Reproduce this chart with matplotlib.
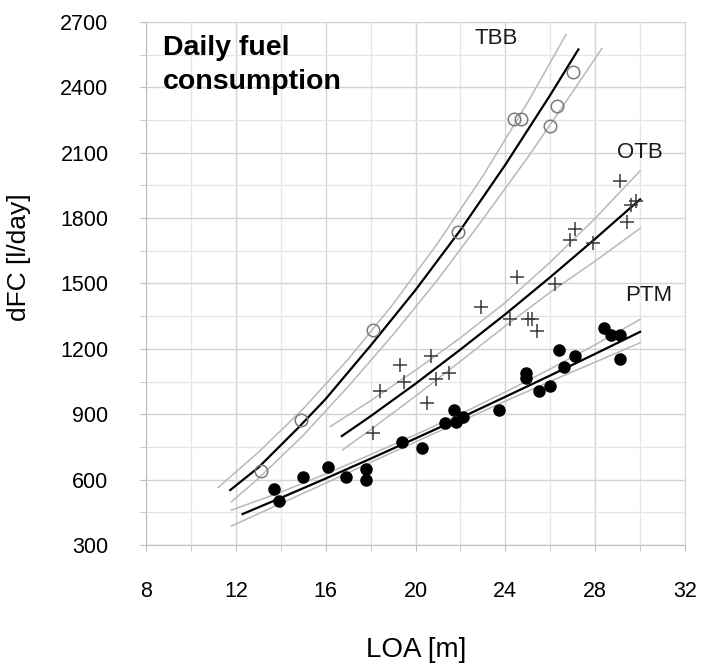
import matplotlib.pyplot as plt
from matplotlib.ticker import MultipleLocator

plt.rcParams['font.family'] = ['Liberation Sans', 'DejaVu Sans']

# observed vessels, LOA [m] vs daily fuel consumption [l/day]
tbb_loa = [13.1, 14.9, 18.1, 21.9, 24.4, 24.7, 26.0, 26.3, 27.0]
tbb_dfc = [639, 873, 1286, 1734, 2255, 2255, 2222, 2314, 2471]

otb_loa = [18.1, 18.4, 19.3, 19.5, 20.5, 20.7, 20.9, 21.5, 22.9, 24.2, 24.5,
           25.0, 25.2, 25.4, 26.2, 26.9, 27.1, 27.9, 29.1, 29.4, 29.6, 29.8]
otb_dfc = [812, 1006, 1126, 1046, 953, 1167, 1060, 1090, 1393, 1335, 1528,
           1335, 1335, 1283, 1496, 1699, 1748, 1684, 1971, 1783, 1860, 1880]

ptm_loa = [13.7, 13.9, 15.0, 16.1, 16.9, 17.8, 17.8, 19.4, 20.3, 21.3, 21.7,
           21.8, 22.1, 23.7, 24.9, 24.9, 25.5, 26.0, 26.4, 26.6, 27.1, 28.4,
           28.7, 29.1, 29.1]
ptm_dfc = [557, 503, 613, 659, 611, 647, 598, 774, 745, 861, 919,
           866, 889, 919, 1088, 1065, 1006, 1029, 1194, 1115, 1167, 1294,
           1263, 1263, 1153]

# fitted curves and their bands
tbb_fit_x = [11.75, 13, 14.8, 16, 18, 20, 22, 24, 26, 27.25]
tbb_fit_y = [552, 655, 840, 970, 1215, 1470, 1745, 2045, 2365, 2574]
tbb_up_x = [11.2, 13, 15, 17, 19, 21, 23, 25, 26.7]
tbb_up_y = [563, 725, 925, 1152, 1405, 1687, 1993, 2332, 2642]
tbb_lo_x = [11.8, 13, 15, 17, 19, 21, 23, 25, 27, 28.3]
tbb_lo_y = [498, 605, 803, 1027, 1265, 1519, 1795, 2079, 2380, 2579]

otb_fit_x = [16.72, 18, 20, 22, 24, 26, 28, 30]
otb_fit_y = [800, 891, 1040, 1197, 1359, 1529, 1705, 1886]
otb_up_x = [16.2, 18, 20, 22, 24, 26, 28, 30]
otb_up_y = [843, 962, 1102, 1251, 1413, 1598, 1799, 2017]
otb_lo_x = [16.75, 18, 20, 22, 24, 26, 28, 30]
otb_lo_y = [736, 829, 983, 1143, 1305, 1460, 1603, 1753]

ptm_fit_x = [12.3, 14, 16, 18, 20, 22, 24, 26, 28, 30]
ptm_fit_y = [442, 516, 605, 696, 789, 883, 980, 1078, 1177, 1278]
ptm_up_x = [11.8, 14, 16, 18, 20, 22, 24, 26, 28, 30]
ptm_up_y = [460, 542, 626, 715, 806, 901, 1002, 1108, 1219, 1335]
ptm_lo_x = [11.8, 14, 16, 18, 20, 22, 24, 26, 28, 30]
ptm_lo_y = [387, 490, 584, 679, 773, 867, 960, 1051, 1139, 1228]

fig = plt.figure(figsize=(7.01, 6.70), dpi=100)
ax = fig.add_axes([0.2083, 0.1866, 0.7689, 0.7806])

band = dict(color='#b8b8b8', lw=1.1, zorder=2)
fit = dict(color='black', lw=1.6, zorder=3)
for bx, by in [(tbb_up_x, tbb_up_y), (tbb_lo_x, tbb_lo_y),
               (otb_up_x, otb_up_y), (otb_lo_x, otb_lo_y),
               (ptm_up_x, ptm_up_y), (ptm_lo_x, ptm_lo_y)]:
    ax.plot(bx, by, **band)
for fx, fy in [(tbb_fit_x, tbb_fit_y), (otb_fit_x, otb_fit_y),
               (ptm_fit_x, ptm_fit_y)]:
    ax.plot(fx, fy, **fit)

ax.plot(tbb_loa, tbb_dfc, 'o', ms=9, mfc='none', mec='#7a7a7a', mew=1.1, zorder=4)
ax.plot(otb_loa, otb_dfc, '+', ms=10, mec='#3a3a3a', mew=1.1, zorder=4)
ax.plot(ptm_loa, ptm_dfc, 'o', ms=8, mfc='black', mec='black', zorder=4)

ax.text(23.6, 2626, 'TBB', fontsize=16, ha='center', va='center', color='#1a1a1a')
ax.text(30.0, 2103, 'OTB', fontsize=16, ha='center', va='center', color='#1a1a1a')
ax.text(30.4, 1447, 'PTM', fontsize=16, ha='center', va='center', color='#1a1a1a')
ax.text(0.032, 0.975, 'Daily fuel\nconsumption', transform=ax.transAxes,
        fontsize=20.5, fontweight='bold', ha='left', va='top', linespacing=1.38)

ax.set_xlim(8, 32)
ax.set_ylim(300, 2700)
ax.xaxis.set_major_locator(MultipleLocator(4))
ax.xaxis.set_minor_locator(MultipleLocator(2))
ax.yaxis.set_major_locator(MultipleLocator(300))
ax.yaxis.set_minor_locator(MultipleLocator(150))
ax.grid(True, which='major', color='#d4d4d4', lw=1.0, zorder=0)
ax.grid(True, which='minor', color='#e6e6e6', lw=1.0, zorder=0)
ax.set_axisbelow(True)

for s in ['top', 'right']:
    ax.spines[s].set_color('#d4d4d4')
for s in ['left', 'bottom']:
    ax.spines[s].set_color('#bdbdbd')
ax.tick_params(which='both', length=4, color='#bdbdbd', labelsize=15.5)
ax.tick_params(axis='y', which='major', pad=23)
ax.tick_params(axis='x', which='major', pad=22)
ax.tick_params(which='minor', labelleft=False, labelbottom=False)

ax.set_xlabel('LOA [m]', fontsize=20, va='center')
ax.set_ylabel('dFC [l/day]', fontsize=19, va='center')
ax.xaxis.set_label_coords(0.501, -0.20)
ax.yaxis.set_label_coords(-0.236, 0.551)

fig.savefig('out.png', dpi=100)
